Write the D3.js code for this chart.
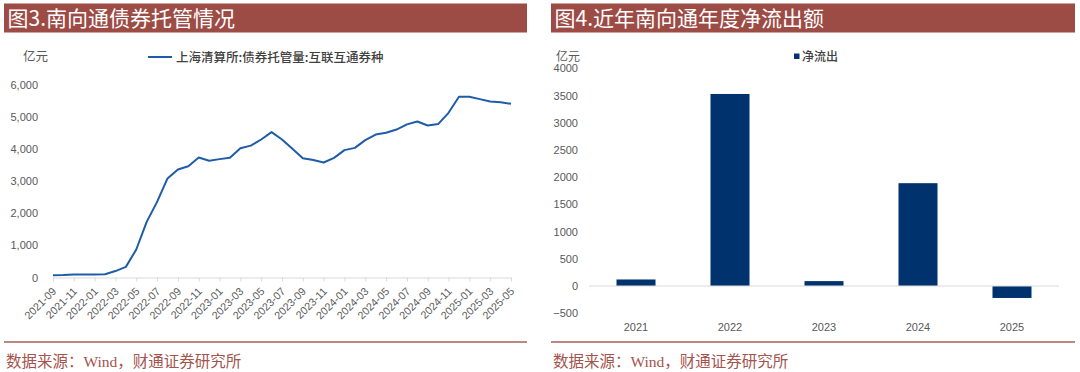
<!DOCTYPE html>
<html>
<head>
<meta charset="utf-8">
<script src="https://cdn.jsdelivr.net/npm/d3@7"></script>
<style>
  html, body { margin: 0; padding: 0; background: #fff; }
  svg { display: block; }
</style>
</head>
<body>
<svg id="chart" width="1080" height="372"></svg>
<script>
// ── DATA ──────────────────────────────────────────────────────────
const months = [
  '2021-09','2021-10','2021-11','2021-12',
  '2022-01','2022-02','2022-03','2022-04','2022-05','2022-06','2022-07','2022-08','2022-09','2022-10','2022-11','2022-12',
  '2023-01','2023-02','2023-03','2023-04','2023-05','2023-06','2023-07','2023-08','2023-09','2023-10','2023-11','2023-12',
  '2024-01','2024-02','2024-03','2024-04','2024-05','2024-06','2024-07','2024-08','2024-09','2024-10','2024-11','2024-12',
  '2025-01','2025-02','2025-03','2025-04','2025-05'
];
const custody = [
  70, 75, 90, 95,
  95, 100, 200, 330, 870, 1730, 2350, 3080, 3360, 3460, 3730, 3630,
  3680, 3720, 4020, 4100, 4290, 4520, 4290, 4000, 3710, 3650, 3575, 3720,
  3960, 4030, 4270, 4445, 4500, 4600, 4760, 4850, 4725, 4770, 5120, 5620,
  5620, 5545, 5470, 5450, 5400
];
const leftTicks = [0, 1000, 2000, 3000, 4000, 5000, 6000];

const years = ['2021', '2022', '2023', '2024', '2025'];
const netOutflow = [120, 3530, 90, 1890, -220];
const rightTicks = [-500, 0, 500, 1000, 1500, 2000, 2500, 3000, 3500, 4000];

// ── STYLE ─────────────────────────────────────────────────────────
const RED = '#9d4b45';
const GREY = '#595959';
const AXIS = '#d9d9d9';
const CJK = "'Noto Sans CJK SC', sans-serif";
const NUM = "'Liberation Sans', Arial, sans-serif";

const svg = d3.select('#chart');
svg.append('rect').attr('width', 1080).attr('height', 372).attr('fill', '#fff');

// ── PANEL FRAME (title bar + footer) ──────────────────────────────
function frame(x0, x1, title) {
  svg.append('rect')
    .attr('x', x0).attr('y', 3.5)
    .attr('width', x1 - x0).attr('height', 29)
    .attr('fill', RED);
  svg.append('text')
    .attr('x', x0 + 3.5).attr('y', 26)
    .attr('font-family', CJK).attr('font-size', 21)
    .attr('fill', '#fff')
    .text(title);
  svg.append('line')
    .attr('x1', x0).attr('x2', x1)
    .attr('y1', 342).attr('y2', 342)
    .attr('stroke', '#a4605a').attr('stroke-width', 1.4);
  svg.append('text')
    .attr('x', x0 + 2).attr('y', 367)
    .attr('font-family', "'Liberation Serif', 'Noto Sans CJK SC', serif")
    .attr('font-size', 15.5)
    .attr('fill', '#a4534d')
    .text('数据来源：Wind，财通证券研究所');
}
frame(4, 527, '图3.南向通债券托管情况');
frame(551, 1075, '图4.近年南向通年度净流出额');

// ── LEFT: LINE CHART ──────────────────────────────────────────────
const xL = d3.scalePoint().domain(months).range([53, 511]);
const yL = d3.scaleLinear().domain([0, 6000]).range([277.5, 84.5]);

const gL = svg.append('g');

// y labels
gL.append('g')
  .attr('transform', 'translate(38,0)')
  .call(d3.axisLeft(yL).tickValues(leftTicks).tickSize(0).tickPadding(0).tickFormat(d3.format(',')))
  .call(g => g.select('.domain').remove())
  .call(g => g.selectAll('text')
    .attr('font-family', NUM).attr('font-size', 11).attr('fill', GREY));

// x axis
gL.append('g')
  .attr('transform', `translate(0,${yL(0)})`)
  .call(d3.axisBottom(xL).tickValues(months.filter((m, i) => i % 2 === 0)).tickSize(4).tickSizeOuter(0))
  .call(g => g.select('.domain').attr('stroke', AXIS).attr('stroke-width', 1.2))
  .call(g => g.selectAll('.tick line').attr('stroke', AXIS))
  .call(g => g.selectAll('text')
    .attr('font-family', NUM).attr('font-size', 10.8).attr('fill', GREY)
    .attr('text-anchor', 'end')
    .attr('dy', 0).attr('y', 0)
    .attr('transform', 'translate(3.5,14.5) rotate(-45)'));

// line
gL.append('path')
  .datum(custody)
  .attr('fill', 'none')
  .attr('stroke', '#1f5ca8')
  .attr('stroke-width', 2)
  .attr('stroke-linejoin', 'round')
  .attr('d', d3.line().x((d, i) => xL(months[i])).y(d => yL(d)));

// unit + legend
gL.append('text')
  .attr('x', 23).attr('y', 61)
  .attr('font-family', CJK).attr('font-size', 12.5).attr('fill', GREY)
  .text('亿元');
gL.append('line')
  .attr('x1', 148).attr('x2', 172).attr('y1', 57).attr('y2', 57)
  .attr('stroke', '#1f5ca8').attr('stroke-width', 2);
gL.append('text')
  .attr('x', 176).attr('y', 61.5)
  .attr('font-family', CJK).attr('font-size', 12.5).attr('font-weight', 500)
  .attr('fill', '#404040')
  .text('上海清算所:债券托管量:互联互通券种');

// ── RIGHT: BAR CHART ──────────────────────────────────────────────
const xR = d3.scaleBand().domain(years).range([589, 1059])
  .paddingInner(0.585).paddingOuter(0.2925);
const yR = d3.scaleLinear().domain([-500, 4000]).range([313.2, 68.4]);

const gR = svg.append('g');

gR.append('g')
  .attr('transform', 'translate(578,0)')
  .call(d3.axisLeft(yR).tickValues(rightTicks).tickSize(0).tickPadding(0).tickFormat(d3.format('d')))
  .call(g => g.select('.domain').remove())
  .call(g => g.selectAll('text')
    .attr('font-family', NUM).attr('font-size', 11).attr('fill', GREY));

gR.selectAll('rect.bar')
  .data(netOutflow)
  .enter().append('rect')
    .attr('class', 'bar')
    .attr('x', (d, i) => xR(years[i]))
    .attr('width', xR.bandwidth())
    .attr('y', d => yR(Math.max(0, d)))
    .attr('height', d => Math.abs(yR(d) - yR(0)))
    .attr('fill', '#00336e');

gR.append('line')
  .attr('x1', 589).attr('x2', 1059)
  .attr('y1', yR(0)).attr('y2', yR(0))
  .attr('stroke', AXIS).attr('stroke-width', 1.2);

gR.selectAll('text.year')
  .data(years)
  .enter().append('text')
    .attr('class', 'year')
    .attr('x', d => xR(d) + xR.bandwidth() / 2)
    .attr('y', 330.5)
    .attr('text-anchor', 'middle')
    .attr('font-family', NUM).attr('font-size', 11).attr('fill', GREY)
    .text(d => d);

gR.append('text')
  .attr('x', 556).attr('y', 61)
  .attr('font-family', CJK).attr('font-size', 12).attr('fill', GREY)
  .text('亿元');
gR.append('rect')
  .attr('x', 794).attr('y', 53.5).attr('width', 5.5).attr('height', 5.5)
  .attr('fill', '#00336e');
gR.append('text')
  .attr('x', 802).attr('y', 60.5)
  .attr('font-family', CJK).attr('font-size', 12).attr('font-weight', 500)
  .attr('fill', '#404040')
  .text('净流出');
</script>
</body>
</html>
